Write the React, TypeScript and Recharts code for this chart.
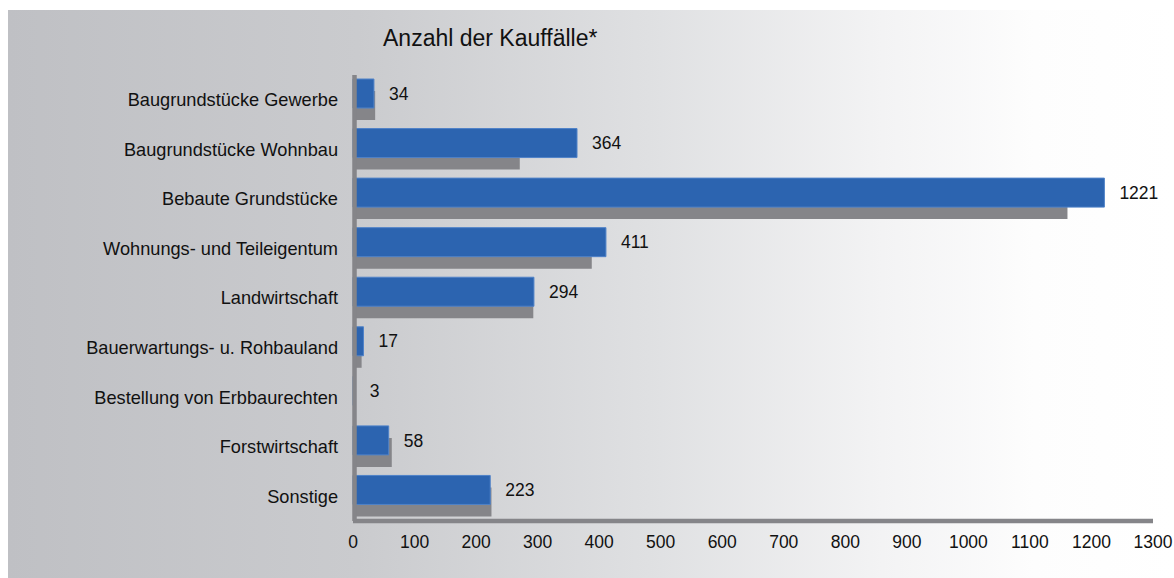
import { BarChart, Bar, XAxis, YAxis, LabelList } from "recharts";

const categories = [
  "Baugrundstücke Gewerbe",
  "Baugrundstücke Wohnbau",
  "Bebaute Grundstücke",
  "Wohnungs- und Teileigentum",
  "Landwirtschaft",
  "Bauerwartungs- u. Rohbauland",
  "Bestellung von Erbbaurechten",
  "Forstwirtschaft",
  "Sonstige",
];
const currentYear = [34, 364, 1221, 411, 294, 17, 3, 58, 223];
const previousYear = [36, 271, 1161, 388, 293, 14, 2, 63, 225];
const xTicks = [0, 100, 200, 300, 400, 500, 600, 700, 800, 900, 1000, 1100, 1200, 1300];

const BLUE = "#2c64b0";
const GRAY = "#858589";
const FONT = "'Liberation Sans', Arial, sans-serif";

const data = categories.map((name, i) => ({
  name,
  cur: currentYear[i],
  prev: previousYear[i],
}));

export default function App() {
  return (
    <div
      style={{
        width: 1174,
        height: 578,
        paddingTop: 10,
        paddingLeft: 8,
        boxSizing: "border-box",
        overflow: "hidden",
      }}
    >
      <style>{"body { margin: 0; }"}</style>
      <div
        style={{
          position: "relative",
          width: 1166,
          height: 568,
          background:
            "linear-gradient(to right, #bfc0c4 0%, #cacbce 30%, #dfe0e2 55%, #f3f3f4 75%, #fdfdfd 88%, #ffffff 100%)",
          fontFamily: FONT,
        }}
      >
        <div
          style={{
            position: "absolute",
            left: 375,
            top: 15,
            fontSize: 23,
            color: "#111",
            whiteSpace: "nowrap",
          }}
        >
          Anzahl der Kauffälle*
        </div>
        <BarChart
          width={1166}
          height={568}
          data={data}
          layout="vertical"
          margin={{ top: 65, right: 21, left: 0, bottom: 27 }}
          barSize={29}
          barGap={-41}
          barCategoryGap={0}
        >
          {/* previous year drawn first, sits behind and 12px lower */}
          <Bar dataKey="prev" fill={GRAY} isAnimationActive={false} />
          <Bar dataKey="cur" fill={BLUE} stroke="#4f82c8" strokeWidth={1} isAnimationActive={false}>
            <LabelList
              dataKey="cur"
              position="right"
              offset={15}
              fill="#111"
              fontSize={17.5}
              fontFamily={FONT}
            />
          </Bar>
          <XAxis
            type="number"
            domain={[0, 1300]}
            ticks={xTicks}
            interval={0}
            height={30}
            tickSize={0}
            tickMargin={15}
            axisLine={{ stroke: GRAY, strokeWidth: 4.5 }}
            tick={{ fill: "#111", fontSize: 17.5, fontFamily: FONT }}
          />
          <YAxis
            type="category"
            dataKey="name"
            width={345}
            interval={0}
            tickSize={0}
            tickMargin={15}
            axisLine={{ stroke: GRAY, strokeWidth: 4.5, transform: "translate(1.5,0)" }}
            tick={{ fill: "#111", fontSize: 18.2, fontFamily: FONT }}
          />
        </BarChart>
      </div>
    </div>
  );
}
